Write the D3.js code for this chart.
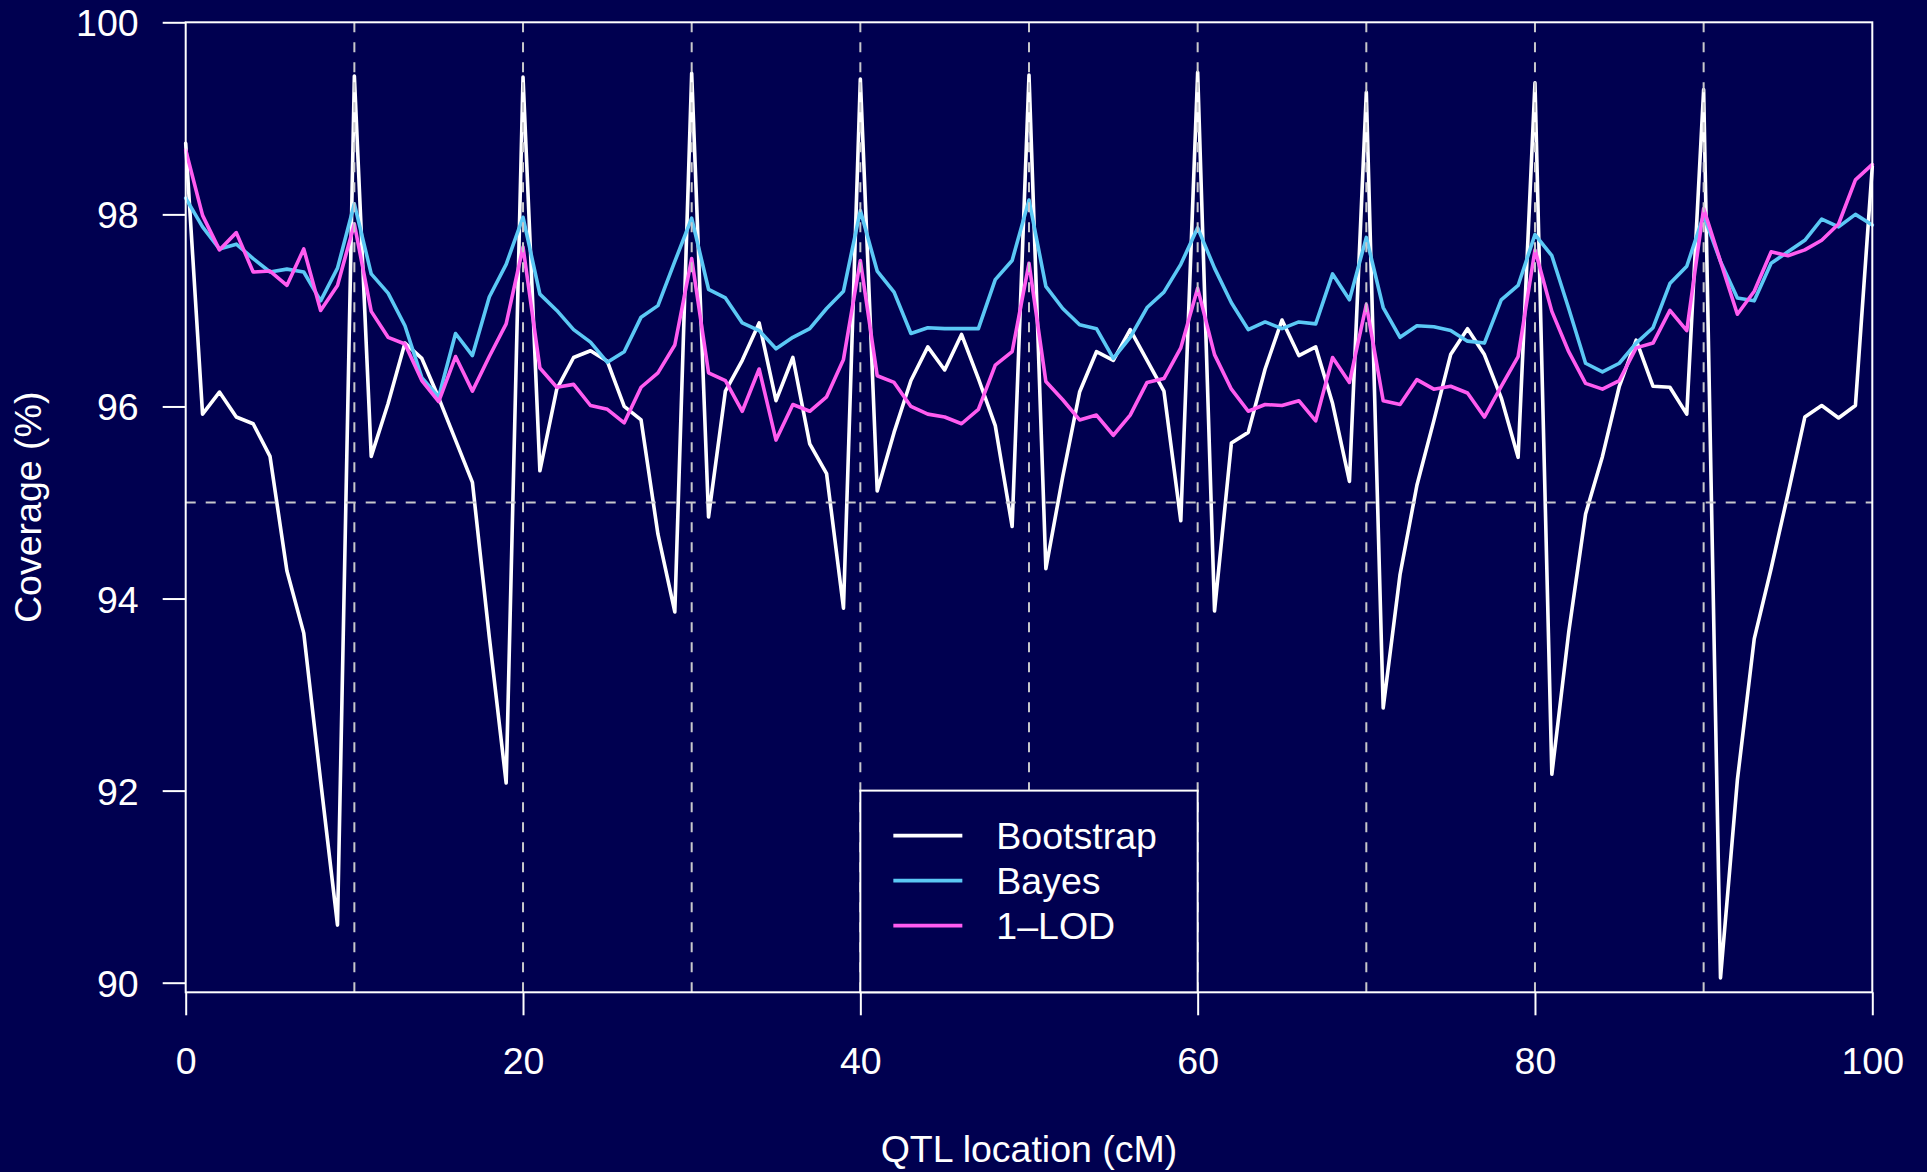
<!DOCTYPE html>
<html>
<head>
<meta charset="utf-8">
<script src="https://cdn.jsdelivr.net/npm/d3@7"></script>
<style>
  html, body { margin: 0; padding: 0; background: #000050; }
  svg { display: block; }
  text { font-family: "Liberation Sans", Arial, Helvetica, sans-serif; fill: #ffffff; }
</style>
</head>
<body>
<svg id="chart" width="1927" height="1172"></svg>
<script>
// ---- data ----
const locations = d3.range(0, 101); // QTL location (cM), 0..100 step 1

const bootstrap = [
  98.74, 95.92, 96.15, 95.89, 95.82, 95.48, 94.29, 93.64, 92.10, 90.60,
  99.44, 95.48, 96.03, 96.66, 96.50, 96.09, 95.65, 95.21, 93.60, 92.08,
  99.43, 95.33, 96.18, 96.51, 96.58, 96.47, 96.00, 95.86, 94.67, 93.86,
  99.47, 94.85, 96.16, 96.48, 96.87, 96.06, 96.51, 95.61, 95.30, 93.90,
  99.41, 95.12, 95.73, 96.27, 96.62, 96.38, 96.75, 96.29, 95.80, 94.75,
  99.45, 94.31, 95.27, 96.15, 96.57, 96.48, 96.80, 96.48, 96.16, 94.81,
  99.48, 93.87, 95.62, 95.73, 96.39, 96.90, 96.53, 96.62, 96.03, 95.22,
  99.27, 92.86, 94.25, 95.18, 95.85, 96.54, 96.81, 96.54, 96.09, 95.47,
  99.37, 92.17, 93.65, 94.88, 95.48, 96.21, 96.69, 96.21, 96.20, 95.92,
  99.30, 90.05, 92.11, 93.58, 94.31, 95.09, 95.89, 96.01, 95.88, 96.01,
  98.50
];

const bayes = [
  98.17, 97.87, 97.64, 97.69, 97.54, 97.40, 97.43, 97.40, 97.10, 97.44,
  98.11, 97.38, 97.18, 96.84, 96.30, 96.10, 96.76, 96.53, 97.14, 97.48,
  97.97, 97.17, 97.00, 96.80, 96.67, 96.46, 96.57, 96.93, 97.05, 97.51,
  97.96, 97.22, 97.13, 96.87, 96.79, 96.60, 96.72, 96.81, 97.02, 97.20,
  98.04, 97.41, 97.19, 96.76, 96.82, 96.81, 96.81, 96.81, 97.32, 97.52,
  98.15, 97.25, 97.02, 96.85, 96.81, 96.50, 96.72, 97.03, 97.19, 97.48,
  97.86, 97.44, 97.08, 96.80, 96.88, 96.81, 96.88, 96.86, 97.38, 97.11,
  97.76, 97.03, 96.72, 96.84, 96.83, 96.79, 96.68, 96.66, 97.11, 97.26,
  97.79, 97.57, 97.02, 96.45, 96.36, 96.45, 96.66, 96.82, 97.28, 97.46,
  97.99, 97.51, 97.13, 97.10, 97.49, 97.61, 97.73, 97.95, 97.87, 98.00,
  97.89
];

const lod1 = [
  98.67, 97.99, 97.63, 97.81, 97.40, 97.41, 97.26, 97.64, 97.00, 97.26,
  97.90, 96.99, 96.72, 96.65, 96.27, 96.05, 96.52, 96.16, 96.52, 96.86,
  97.66, 96.40, 96.20, 96.23, 96.01, 95.97, 95.83, 96.20, 96.35, 96.64,
  97.54, 96.35, 96.27, 95.95, 96.39, 95.65, 96.02, 95.95, 96.10, 96.49,
  97.52, 96.32, 96.25, 96.00, 95.92, 95.89, 95.82, 95.97, 96.43, 96.57,
  97.49, 96.26, 96.07, 95.86, 95.91, 95.70, 95.91, 96.25, 96.29, 96.61,
  97.23, 96.54, 96.18, 95.95, 96.02, 96.01, 96.06, 95.85, 96.51, 96.25,
  97.06, 96.06, 96.02, 96.28, 96.18, 96.21, 96.14, 95.89, 96.21, 96.52,
  97.63, 96.99, 96.57, 96.24, 96.18, 96.27, 96.61, 96.66, 97.00, 96.79,
  98.06, 97.51, 96.96, 97.20, 97.61, 97.57, 97.63, 97.73, 97.90, 98.36,
  98.52
];

const seriesNames = ["Bootstrap", "Bayes", "1\u2013LOD"];
const seriesColors = ["#ffffff", "#5bc8f5", "#ff5cf0"];
const xTicks = [0, 20, 40, 60, 80, 100];
const yTicks = [90, 92, 94, 96, 98, 100];
const markerLines = [10, 20, 30, 40, 50, 60, 70, 80, 90];
const targetLevel = [95];

(function () {
  // ---- layout ----
  const W = 1927, H = 1172;
  const pL = 185.7, pR = 1872.3, pT = 22.3, pB = 992.3;
  const bg = "#000050";
  const fontSize = 37.5;
  const lineW = 3.6;

  const svg = d3.select("#chart");
  svg.append("rect").attr("width", W).attr("height", H).attr("fill", bg);

  const x = d3.scaleLinear().domain([0, 100]).range([pL, pR]);
  const y = d3.scaleLinear().domain([89.9, 100]).range([pB, pT]);

  // series
  const seriesData = [bootstrap, bayes, lod1];
  const line = d3.line().x((d, i) => x(locations[i])).y(d => y(d));
  const gLines = svg.append("g");
  seriesData.forEach((vals, si) => {
    gLines.append("path")
      .datum(vals)
      .attr("d", line)
      .attr("fill", "none")
      .attr("stroke", seriesColors[si])
      .attr("stroke-width", lineW)
      .attr("stroke-linejoin", "round")
      .attr("stroke-linecap", "round");
  });

  // dashed reference lines
  const gRef = svg.append("g")
    .attr("stroke", "#c8c8cc")
    .attr("stroke-width", 2)
    .attr("stroke-dasharray", "10,10");
  gRef.selectAll("line.v").data(markerLines).join("line")
    .attr("class", "v")
    .attr("x1", d => x(d)).attr("x2", d => x(d))
    .attr("y1", pT).attr("y2", pB);
  gRef.selectAll("line.h").data(targetLevel).join("line")
    .attr("class", "h")
    .attr("x1", pL).attr("x2", pR)
    .attr("y1", d => y(d)).attr("y2", d => y(d));

  // axes
  const yAxis = d3.axisLeft(y).tickValues(yTicks).tickSize(23).tickPadding(24);
  const gy = svg.append("g").attr("transform", `translate(${pL},0)`).call(yAxis);
  gy.select(".domain").remove();
  gy.selectAll(".tick line").attr("stroke", "#ffffff").attr("stroke-width", 2);
  gy.selectAll(".tick text")
    .attr("fill", "#ffffff")
    .attr("font-size", fontSize)
    .attr("font-family", "Liberation Sans, Arial, sans-serif")
    .attr("dy", "0.36em");

  const xAxis = d3.axisBottom(x).tickValues(xTicks).tickSize(23);
  const gx = svg.append("g").attr("transform", `translate(0,${pB})`).call(xAxis);
  gx.select(".domain").remove();
  gx.selectAll(".tick line").attr("stroke", "#ffffff").attr("stroke-width", 2);
  gx.selectAll(".tick text")
    .attr("fill", "#ffffff")
    .attr("font-size", fontSize)
    .attr("font-family", "Liberation Sans, Arial, sans-serif")
    .attr("y", 82)
    .attr("dy", 0);

  // plot box
  svg.append("rect")
    .attr("x", pL).attr("y", pT)
    .attr("width", pR - pL).attr("height", pB - pT)
    .attr("fill", "none").attr("stroke", "#ffffff").attr("stroke-width", 2);

  // axis titles
  svg.append("text")
    .attr("x", (pL + pR) / 2).attr("y", 1162)
    .attr("text-anchor", "middle")
    .attr("font-size", fontSize)
    .text("QTL location (cM)");
  svg.append("text")
    .attr("transform", `translate(40.5, ${(pT + pB) / 2}) rotate(-90)`)
    .attr("text-anchor", "middle")
    .attr("font-size", fontSize)
    .text("Coverage (%)");

  // legend
  const lgX = x(40), lgY = y(92), lgR = x(60), lgB = pB;
  const gLeg = svg.append("g");
  gLeg.append("rect")
    .attr("x", lgX).attr("y", lgY)
    .attr("width", lgR - lgX).attr("height", lgB - lgY)
    .attr("fill", bg).attr("stroke", "#ffffff").attr("stroke-width", 2);
  seriesNames.forEach((name, i) => {
    const cy = lgY + 45 + i * 45;
    gLeg.append("line")
      .attr("x1", lgX + 33).attr("x2", lgX + 102)
      .attr("y1", cy).attr("y2", cy)
      .attr("stroke", seriesColors[i]).attr("stroke-width", lineW);
    gLeg.append("text")
      .attr("x", lgX + 136).attr("y", cy + 13)
      .attr("font-size", fontSize)
      .text(name);
  });
})();
</script>
</body>
</html>
